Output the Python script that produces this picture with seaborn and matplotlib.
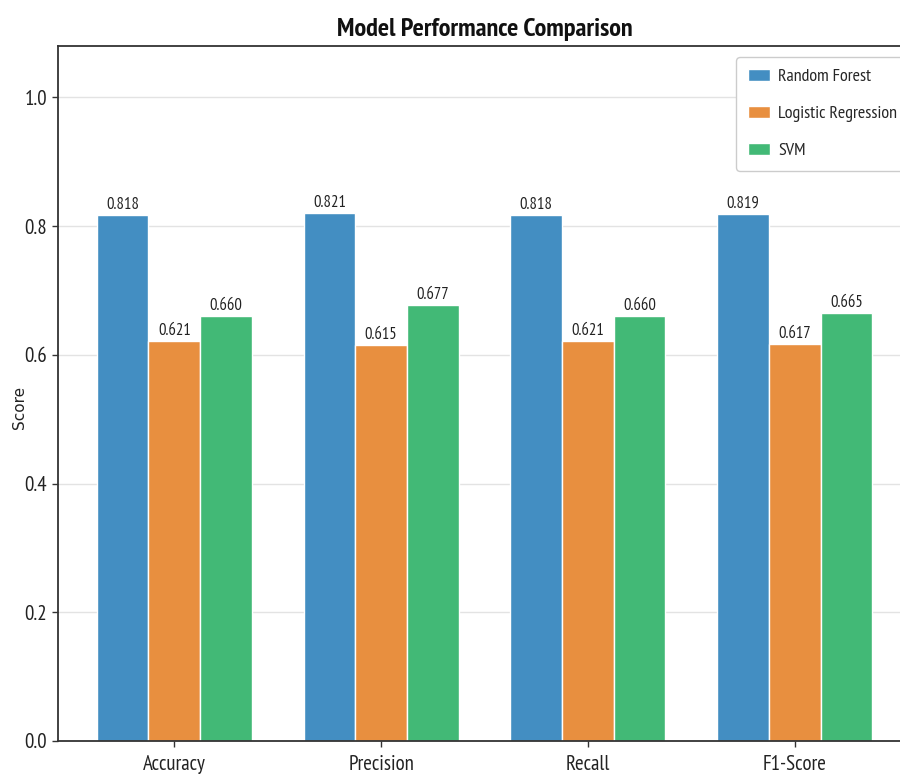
import matplotlib
matplotlib.use("Agg")
import matplotlib.pyplot as plt
import pandas as pd
import seaborn as sns

# Scores per metric for each model
metrics = ["Accuracy", "Precision", "Recall", "F1-Score"]
models = ["Random Forest", "Logistic Regression", "SVM"]
random_forest = [0.818, 0.821, 0.818, 0.819]
logistic_regression = [0.621, 0.615, 0.621, 0.617]
svm = [0.660, 0.677, 0.660, 0.665]
y_ticks = [0.0, 0.2, 0.4, 0.6, 0.8, 1.0]

colors = ["#438EC2", "#E88F3F", "#42B976"]

df = pd.DataFrame({
    "Metric": metrics * 3,
    "Score": random_forest + logistic_regression + svm,
    "Model": [m for m in models for _ in metrics],
})

sns.set_theme(style="white")
plt.rcParams["font.family"] = ["PT Sans Narrow", "DejaVu Sans"]

fig = plt.figure(figsize=(9, 7.78), dpi=100)
ax = fig.add_axes([58 / 900, 37 / 778, 853 / 900, 695 / 778])

sns.barplot(data=df, x="Metric", y="Score", hue="Model", order=metrics,
            hue_order=models, palette=colors, width=0.75, gap=0,
            edgecolor="white", linewidth=1, saturation=1, ax=ax)

for container in ax.containers:
    ax.bar_label(container, fmt="%.3f", padding=1.5, fontsize=12, color="#222222")

ax.set_xlim(-0.5625, 3.5625)
ax.set_ylim(0, 1.08)
ax.set_yticks(y_ticks)
ax.set_yticklabels([f"{t:.1f}" for t in y_ticks])

ax.grid(axis="y", color="#e3e3e3", linewidth=1)
ax.set_axisbelow(True)

for side in ["left", "bottom", "top", "right"]:
    ax.spines[side].set_visible(True)
    ax.spines[side].set_color("#333333")
    ax.spines[side].set_linewidth(1.3)

ax.tick_params(axis="both", which="major", left=True, bottom=True,
               length=4, width=1, color="#333333", labelsize=15,
               labelcolor="#222222")
ax.tick_params(axis="x", pad=6)
ax.tick_params(axis="y", pad=4)

ax.set_xlabel("")
ax.set_ylabel("Score", fontsize=11, family="DejaVu Sans", color="#222222")
ax.yaxis.set_label_coords(-0.036, 0.48)

ax.set_title("Model Performance Comparison", fontsize=19, fontweight="bold",
             color="#111111", pad=7)

ax.legend(loc="upper left", bbox_to_anchor=((736 - 58) / 853, (741 - 57) / 695),
          borderaxespad=0, fontsize=13, handlelength=1.25, handleheight=0.65,
          handletextpad=0.45, labelspacing=1.15, borderpad=0.65,
          frameon=True, fancybox=True, edgecolor="#cccccc", framealpha=1)

fig.savefig("out.png", dpi=100)
